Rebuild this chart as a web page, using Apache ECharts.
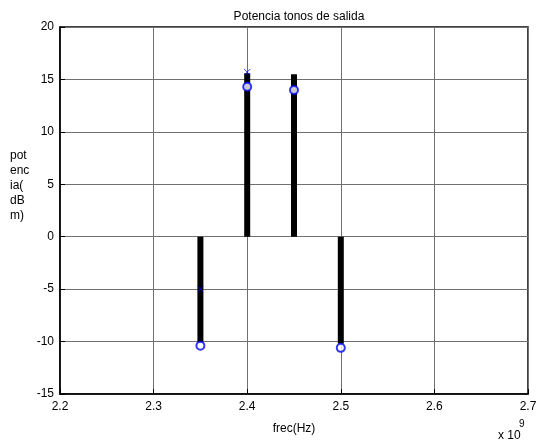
<!doctype html>
<html>
    <head>
        <meta charset="utf-8">
        <title>Potencia tonos de salida</title>
        <style>
            html, body { margin: 0; padding: 0; background: #fff; }
            #main { width: 542px; height: 442px; }
        </style>
    </head>
    <body>
        <div id="main"></div>
        <script src="https://cdn.jsdelivr.net/npm/echarts@6/dist/echarts.min.js"></script>
        <script>
            // frequencies in units of 1e9 Hz
            var freqs = [2.35, 2.4, 2.45, 2.5];
            var stemValues = [-10.1, 15.6, 15.5, -10.2];
            var circleValues = [-10.4, 14.3, 14.0, -10.6];
            var crossFreqs = [2.35, 2.4];
            var crossValues = [-5.0, 15.7];
            var xTicks = [2.2, 2.3, 2.4, 2.5, 2.6, 2.7];
            var yTicks = [-15, -10, -5, 0, 5, 10, 15, 20];

            var chart = echarts.init(document.getElementById('main'));
            var blue = '#0000ff';
            var font = 'Liberation Sans, Arial, sans-serif';

            function pairs(xs, ys) {
                return xs.map(function (x, i) { return [x, ys[i]]; });
            }

            chart.setOption({
                animation: false,
                title: {
                    text: 'Potencia tonos de salida',
                    left: 294,
                    textAlign: 'center',
                    top: 6,
                    textStyle: { fontFamily: font, fontSize: 12, fontWeight: 'normal', color: '#000' }
                },
                grid: {
                    left: 60, right: 14, top: 27, bottom: 48,
                    show: true, borderColor: '#000', borderWidth: 1.5
                },
                xAxis: {
                    type: 'value',
                    min: xTicks[0],
                    max: xTicks[xTicks.length - 1],
                    interval: 0.1,
                    name: 'frec(Hz)',
                    nameLocation: 'middle',
                    nameGap: 29,
                    nameTextStyle: { fontFamily: font, fontSize: 12, color: '#000' },
                    axisLine: { onZero: false, lineStyle: { color: '#000', width: 1.5 } },
                    axisTick: { inside: true, length: 5, lineStyle: { color: '#000' } },
                    axisLabel: {
                        fontFamily: font, fontSize: 12, color: '#000', margin: 7,
                        formatter: function (v) { return v.toFixed(1); }
                    },
                    splitLine: { show: true, lineStyle: { color: '#707070', width: 1 } }
                },
                yAxis: {
                    type: 'value',
                    min: yTicks[0],
                    max: yTicks[yTicks.length - 1],
                    interval: 5,
                    axisLine: { lineStyle: { color: '#000', width: 1.5 } },
                    axisTick: { inside: true, length: 5, lineStyle: { color: '#000' } },
                    axisLabel: { fontFamily: font, fontSize: 12, color: '#000', margin: 6 },
                    splitLine: { show: true, lineStyle: { color: '#707070', width: 1 } }
                },
                graphic: [
                    {
                        type: 'text', left: 10, top: 148,
                        style: {
                            text: 'pot\nenc\nia(\ndB\nm)',
                            font: '12px ' + font, fill: '#000', lineHeight: 15
                        }
                    },
                    {
                        type: 'text', left: 498, top: 430,
                        style: { text: 'x 10', font: '12px ' + font, fill: '#000' }
                    },
                    {
                        type: 'text', left: 519, top: 419,
                        style: { text: '9', font: '10px ' + font, fill: '#000' }
                    }
                ],
                series: [
                    {
                        type: 'bar',
                        data: pairs(freqs, stemValues),
                        barWidth: 6,
                        itemStyle: { color: '#000' },
                        z: 2
                    },
                    {
                        type: 'scatter',
                        data: pairs(freqs, circleValues),
                        symbol: 'emptyCircle',
                        symbolSize: 8,
                        itemStyle: { color: blue, borderColor: blue, borderWidth: 1 },
                        z: 3
                    },
                    {
                        type: 'scatter',
                        data: pairs(crossFreqs, crossValues),
                        symbol: 'path://M0,0L10,10M10,0L0,10',
                        symbolSize: 6,
                        itemStyle: { color: 'none', borderColor: blue, borderWidth: 1 },
                        z: 3
                    }
                ]
            });

            window.addEventListener('resize', function () {
                chart.resize();
            });
        </script>
    </body>
</html>
